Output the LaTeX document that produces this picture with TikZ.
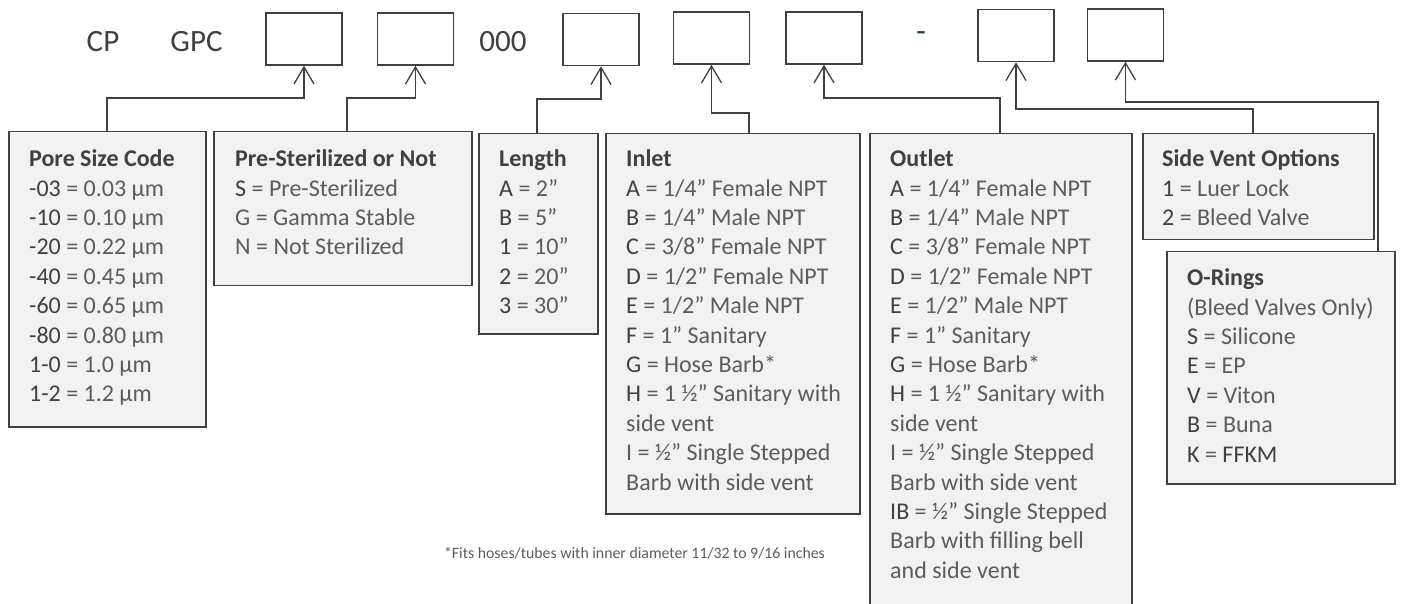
\documentclass[tikz,border=0pt]{standalone}
\usepackage{fontspec}
\setmainfont{Carlito}
\usetikzlibrary{arrows.meta,calc}
\definecolor{ink}{HTML}{404040}
\definecolor{val}{HTML}{5C5C5C}
\definecolor{panelfill}{HTML}{F2F2F2}
\definecolor{navy}{HTML}{1F3864}
\newcommand\cd[1]{\textcolor{ink}{#1}}
\newcommand\ttl[1]{\textcolor{ink}{\textbf{#1}}}
\tikzset{
  topbox/.style={draw=ink, line width=1.5pt, fill=white, minimum width=76pt, minimum height=52pt, inner sep=0pt},
  panel/.style={draw=ink, line width=1.5pt, fill=panelfill, anchor=north west, inner sep=0pt},
  txt/.style={anchor=north west, inner sep=0pt, align=left, text=val, font=\fontsize{24}{29.4}\selectfont},
  toplabel/.style={inner sep=0pt, text=ink, font=\fontsize{31}{33}\selectfont},
  conn/.style={draw=ink, line width=1.3pt, -{Straight Barb[length=17pt,width=20pt]}}
}
\begin{document}
\begin{tikzpicture}[x=1pt,y=-1pt]
\useasboundingbox (0,0) rectangle (1401,604);
% top code row
\node[toplabel] (cp) at (103,42) {CP};
\node[toplabel] (gpc) at (196.5,42) {GPC};
\node[toplabel] (zeros) at (503,42) {000};
\node[toplabel, text=navy, anchor=base] (dash) at (921,42) {-};
\node[topbox] (b1) at (304,39) {};
\node[topbox] (b2) at (415.5,39) {};
\node[topbox] (b3) at (601,39.5) {};
\node[topbox] (b4) at (711.5,38) {};
\node[topbox] (b5) at (824,38) {};
\node[topbox] (b6) at (1016,35.5) {};
\node[topbox] (b7) at (1125.5,35) {};
% panels
\node[panel, minimum width=197pt, minimum height=295pt] (pore) at (8,131) {};
\node[panel, minimum width=258pt, minimum height=154pt] (pre) at (213,131) {};
\node[panel, minimum width=119pt, minimum height=200pt] (len) at (478,133) {};
\node[panel, minimum width=254pt, minimum height=380pt] (inlet) at (605,133) {};
\node[panel, minimum width=262pt, minimum height=490pt] (outlet) at (869,133) {};
\node[panel, minimum width=231pt, minimum height=106pt] (side) at (1142,133) {};
\node[panel, minimum width=228pt, minimum height=232pt] (orings) at (1166,251) {};
% texts
\node[txt] (poret) at (29,146) {\strut\ttl{Pore Size Code}\\
\cd{-03} = 0.03 µm\\ \cd{-10} = 0.10 µm\\ \cd{-20} = 0.22 µm\\ \cd{-40} = 0.45 µm\\
\cd{-60} = 0.65 µm\\ \cd{-80} = 0.80 µm\\ \cd{1-0} = 1.0 µm\\ \cd{1-2} = 1.2 µm};
\node[txt] (pret) at (235,146) {\strut\ttl{Pre-Sterilized or Not}\\
\cd{S} = Pre-Sterilized\\ G = Gamma Stable\\ N = Not Sterilized};
\node[txt] (lent) at (499,146) {\strut\ttl{Length}\\
\cd{A} = 2”\\ \cd{B} = 5”\\ \cd{1} = 10”\\ \cd{2} = 20”\\ \cd{3} = 30”};
\node[txt] (inlett) at (626,146) {\strut\ttl{Inlet}\\
\cd{A} = 1/4” Female NPT\\ \cd{B} = 1/4” Male NPT\\ \cd{C} = 3/8” Female NPT\\
\cd{D} = 1/2” Female NPT\\ \cd{E} = 1/2” Male NPT\\ \cd{F} = 1” Sanitary\\
\cd{G} = Hose Barb*\\ \cd{H} = 1 ½” Sanitary with\\ side vent\\
I = ½” Single Stepped\\ Barb with side vent};
\node[txt] (outlett) at (890,146) {\strut\ttl{Outlet}\\
\cd{A} = 1/4” Female NPT\\ \cd{B} = 1/4” Male NPT\\ \cd{C} = 3/8” Female NPT\\
\cd{D} = 1/2” Female NPT\\ \cd{E} = 1/2” Male NPT\\ \cd{F} = 1” Sanitary\\
\cd{G} = Hose Barb*\\ \cd{H} = 1 ½” Sanitary with\\ side vent\\
I = ½” Single Stepped\\ Barb with side vent\\
\cd{IB} = ½” Single Stepped\\ Barb with filling bell\\ and side vent};
\node[txt] (sidet) at (1162,146) {\strut\ttl{Side Vent Options}\\
\cd{1} = Luer Lock\\ \cd{2} = Bleed Valve};
\node[txt] (oringst) at (1187,265) {\strut\ttl{O-Rings}\\
(Bleed Valves Only)\\ \cd{S} = Silicone\\ \cd{E} = EP\\ \cd{V} = Viton\\ \cd{B} = Buna\\ \cd{K} = \cd{FFKM}};
\node[inner sep=0pt, text=val, font=\fontsize{15.8}{18}\selectfont] (note) at (634.5,553) {*Fits hoses/tubes with inner diameter 11/32 to 9/16 inches};
% connectors
\draw[conn] ($(pore.north west)+(99,0)$) -- ++(0,-33) -| (b1.south);
\draw[conn] ($(pre.north west)+(134,0)$) -- ++(0,-33) -| (b2.south);
\draw[conn] ($(len.north west)+(59,0)$) -- ++(0,-34) -| (b3.south);
\draw[conn] ($(inlet.north west)+(144,0)$) -- ++(0,-20) -| (b4.south);
\draw[conn] ($(outlet.north west)+(131,0)$) -- ++(0,-35) -| (b5.south);
\draw[conn] ($(side.north west)+(111,0)$) -- ++(0,-24) -| (b6.south);
\draw[conn] ($(orings.north west)+(212,0)$) -- ++(0,-149) -| (b7.south);
\end{tikzpicture}
\end{document}
